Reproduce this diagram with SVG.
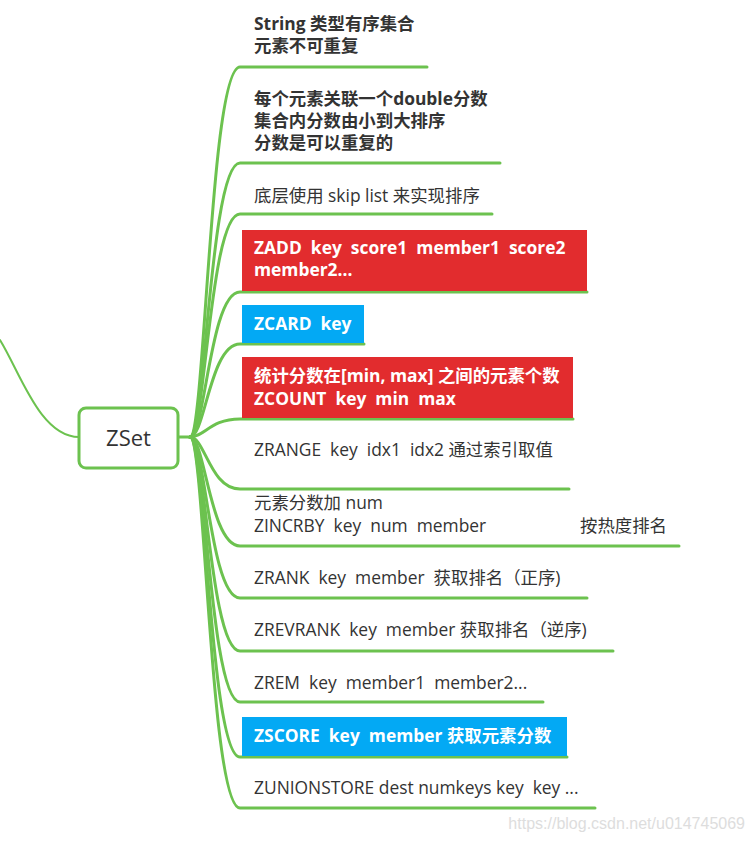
<svg xmlns="http://www.w3.org/2000/svg" width="753" height="842" viewBox="0 0 753 842">
<style>
.ln{fill:none;stroke:#6cc24f;stroke-width:3;stroke-linecap:round}
.t{font-family:"Open Sans","Noto Sans CJK SC",sans-serif;font-size:17.4px;fill:#333;white-space:pre}
.b{font-weight:bold}
.w{fill:#fff;font-weight:bold}
.red{fill:#e22c2e}
.blue{fill:#03a9f4}
</style>
<g id="connectors">
<path class="ln" style="stroke-width:2" d="M0,340 C20,372 40,437 79,437"/>
<path class="ln" d="M178,437 L190,437"/>
<path class="ln" d="M190,437 C205,437 210,67 240,67 L427,67"/>
<path class="ln" d="M190,437 C205,437 210,163 240,163 L500,163"/>
<path class="ln" d="M190,437 C205,437 210,214 240,214 L492,214"/>
<path class="ln" d="M190,437 C205,437 210,292 240,292 L587,292"/>
<path class="ln" d="M190,437 C205,437 210,344 240,344 L364,344"/>
<path class="ln" d="M190,437 C205,437 210,419 240,419 L573,419"/>
<path class="ln" d="M190,437 C205,437 210,489 240,489 L569,489"/>
<path class="ln" d="M190,437 C205,437 210,546 240,546 L679,546"/>
<path class="ln" d="M190,437 C205,437 210,598 240,598 L587,598"/>
<path class="ln" d="M190,437 C205,437 210,651 240,651 L613,651"/>
<path class="ln" d="M190,437 C205,437 210,702 240,702 L543,702"/>
<path class="ln" d="M190,437 C205,437 210,757 240,757 L567,757"/>
<path class="ln" d="M190,437 C205,437 210,808 240,808 L595,808"/>
</g>
<g id="zset">
<rect x="79" y="408" width="99" height="60" rx="7" fill="#fff" stroke="#6cc24f" stroke-width="3"/>
<text class="t" x="128.5" y="446" text-anchor="middle" style="font-size:22px">ZSet</text>
</g>
<g id="n1"><text class="t b" x="254" y="30">String 类型有序集合</text><text class="t b" x="254" y="52">元素不可重复</text></g>
<g id="n2"><text class="t b" x="254" y="105">每个元素关联一个double分数</text><text class="t b" x="254" y="127">集合内分数由小到大排序</text><text class="t b" x="254" y="149">分数是可以重复的</text></g>
<g id="n3"><text class="t" x="254" y="202">底层使用 skip list 来实现排序</text></g>
<g id="n4"><rect class="red" x="242" y="230" width="345" height="61"/><text class="t w" x="254" y="254">ZADD  key  score1  member1  score2</text><text class="t w" x="254" y="276">member2...</text></g>
<g id="n5"><rect class="blue" x="242" y="305" width="122" height="38"/><text class="t w" x="254" y="330">ZCARD  key</text></g>
<g id="n6"><rect class="red" x="242" y="357" width="331" height="61"/><text class="t w" x="254" y="382">统计分数在[min, max] 之间的元素个数</text><text class="t w" x="254" y="405">ZCOUNT  key  min  max</text></g>
<g id="n7"><text class="t" x="254" y="456">ZRANGE  key  idx1  idx2 通过索引取值</text></g>
<g id="n8"><text class="t" x="254" y="509">元素分数加 num</text><text class="t" x="254" y="532">ZINCRBY  key  num  member</text><text class="t" x="580" y="532">按热度排名</text></g>
<g id="n9"><text class="t" x="254" y="584">ZRANK  key  member  获取排名（正序)</text></g>
<g id="n10"><text class="t" x="254" y="636">ZREVRANK  key  member 获取排名（逆序)</text></g>
<g id="n11"><text class="t" x="254" y="689">ZREM  key  member1  member2...</text></g>
<g id="n12"><rect class="blue" x="242" y="717" width="325" height="39"/><text class="t w" x="254" y="742">ZSCORE  key  member 获取元素分数</text></g>
<g id="n13"><text class="t" x="254" y="794">ZUNIONSTORE dest numkeys key  key ...</text></g>
<text x="745" y="829" text-anchor="end" style="font-family:'Liberation Sans',Arial,sans-serif;font-size:16px;fill:#ddd">https://blog.csdn.net/u014745069</text>
</svg>
